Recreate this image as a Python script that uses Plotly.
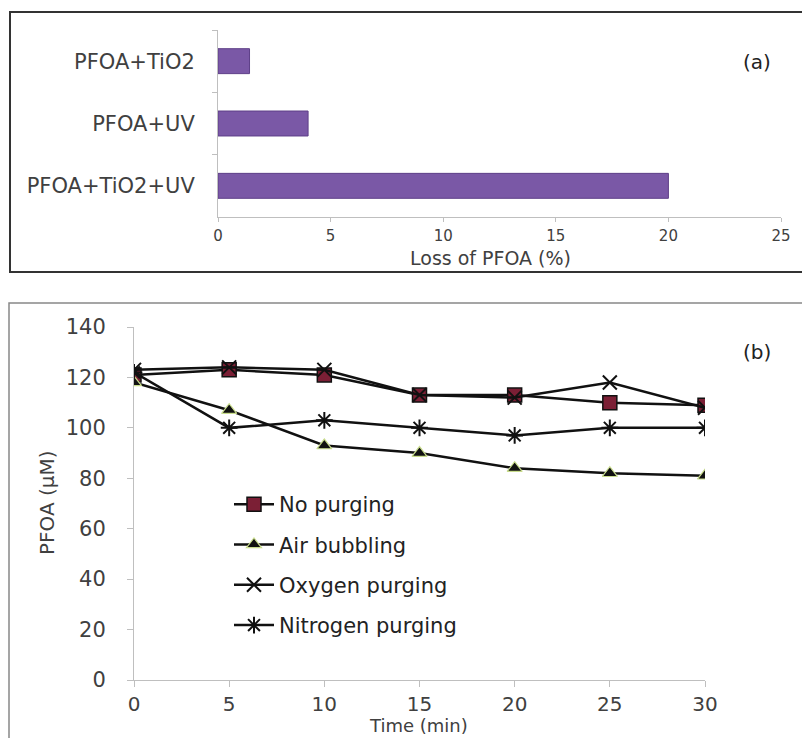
import plotly.graph_objects as go

# Panel (a) data
bar_categories = ["PFOA+TiO2+UV", "PFOA+UV", "PFOA+TiO2"]
bar_values = [20.0, 4.0, 1.4]

# Panel (b) data
time_min = [0, 5, 10, 15, 20, 25, 30]
no_purging = [121, 123, 121, 113, 113, 110, 109]
air_bubbling = [118, 107, 93, 90, 84, 82, 81]
oxygen_purging = [123, 124, 123, 113, 112, 118, 108]
nitrogen_purging = [122, 100, 103, 100, 97, 100, 100]

FONT = "DejaVu Sans"
TXT = "#404040"
AX = "#BFBFBF"

W, H = 810, 738
OFF = 8  # page body margin
def px(x):
    return (x - OFF) / W
def py(y):
    return 1 - (y - OFF) / H

fig = go.Figure()

fig.add_trace(go.Bar(
    x=bar_values, y=bar_categories, orientation="h",
    marker=dict(color="#7A58A6", line=dict(color="#5E3F88", width=1)),
    xaxis="x", yaxis="y", showlegend=False,
))

series = [
    ("No purging", no_purging, dict(symbol="square", size=14, color="#7B1F35", line=dict(color="#111", width=1.5))),
    ("Air bubbling", air_bubbling, dict(symbol="triangle-up", size=13, color="#111", line=dict(color="#C8DC8C", width=1.2))),
    ("Oxygen purging", oxygen_purging, dict(symbol="x-thin-open", size=14, color="#111", line=dict(color="#111", width=2))),
    ("Nitrogen purging", nitrogen_purging, dict(symbol="asterisk-open", size=14, color="#111", line=dict(color="#111", width=2))),
]
for i, (name, vals, mk) in enumerate(series):
    fig.add_trace(go.Scatter(
        x=time_min, y=vals, mode="lines+markers", name=name,
        line=dict(color="#111", width=2.5), marker=mk,
        xaxis="x2", yaxis="y2", legendgroup=f"g{i}",
    ))

fig.update_layout(
    width=W, height=H,
    margin=dict(l=0, r=0, t=0, b=0),
    paper_bgcolor="white", plot_bgcolor="white",
    font=dict(family=FONT, color=TXT),
    bargap=0.6,
    xaxis=dict(
        domain=[px(218), px(781)], anchor="y", range=[0, 25], dtick=5,
        showline=True, linecolor=AX, linewidth=1, ticks="outside", tickcolor=AX, ticklen=4,
        showgrid=False, zeroline=False, tickfont=dict(size=15, color=TXT),
        ticklabelstandoff=1, automargin=False,
    ),
    yaxis=dict(
        domain=[py(217), py(30)], anchor="x", type="category",
        categoryorder="array", categoryarray=bar_categories, range=[-0.5, 2.5],
        showline=True, linecolor=AX, linewidth=1, ticks="outside", tickson="boundaries",
        tickcolor=AX, ticklen=5, showgrid=False, zeroline=False,
        tickfont=dict(size=21, color=TXT), ticklabelstandoff=18, automargin=False,
    ),
    xaxis2=dict(
        domain=[px(134), px(705)], anchor="y2", range=[0, 30], dtick=5,
        showline=True, linecolor=AX, linewidth=1, ticks="outside", tickcolor=AX, ticklen=6,
        showgrid=False, zeroline=False, tickfont=dict(size=20, color=TXT),
        ticklabelstandoff=0, automargin=False,
    ),
    yaxis2=dict(
        domain=[py(680), py(327)], anchor="x2", range=[0, 140], dtick=20,
        showline=True, linecolor=AX, linewidth=1, ticks="outside", tickcolor=AX, ticklen=6,
        showgrid=False, zeroline=False, tickfont=dict(size=21, color=TXT),
        ticklabelstandoff=17, automargin=False,
    ),
    legend=dict(
        x=px(229), y=py(484), xanchor="left", yanchor="top",
        bgcolor="rgba(0,0,0,0)", font=dict(size=21, color="#222"),
        tracegroupgap=10, itemwidth=40,
    ),
    annotations=[
        dict(text="Loss of PFOA (%)", x=px(490), y=py(258), xref="paper", yref="paper",
             xanchor="center", yanchor="middle",
             showarrow=False, font=dict(size=19, color=TXT)),
        dict(text="Time (min)", x=px(418), y=py(725), xref="paper", yref="paper",
             xanchor="center", yanchor="middle",
             showarrow=False, font=dict(size=18, color=TXT)),
        dict(text="PFOA (μM)", x=px(47), y=py(503), xref="paper", yref="paper",
             xanchor="center", yanchor="middle",
             showarrow=False, textangle=-90, font=dict(size=20, color=TXT)),
        dict(text="(a)", x=px(757), y=py(62), xref="paper", yref="paper",
             xanchor="center", yanchor="middle",
             showarrow=False, font=dict(size=20, color="#222")),
        dict(text="(b)", x=px(757), y=py(352), xref="paper", yref="paper",
             xanchor="center", yanchor="middle",
             showarrow=False, font=dict(size=20, color="#222")),
    ],
    shapes=[
        dict(type="rect", xref="paper", yref="paper", x0=px(10), x1=px(815), y0=py(272), y1=py(12),
             line=dict(color="#333", width=2)),
        dict(type="rect", xref="paper", yref="paper", x0=px(9), x1=px(804), y0=py(745), y1=py(303),
             line=dict(color="#888", width=1.5)),
    ],
)

fig.write_html("out.html")
